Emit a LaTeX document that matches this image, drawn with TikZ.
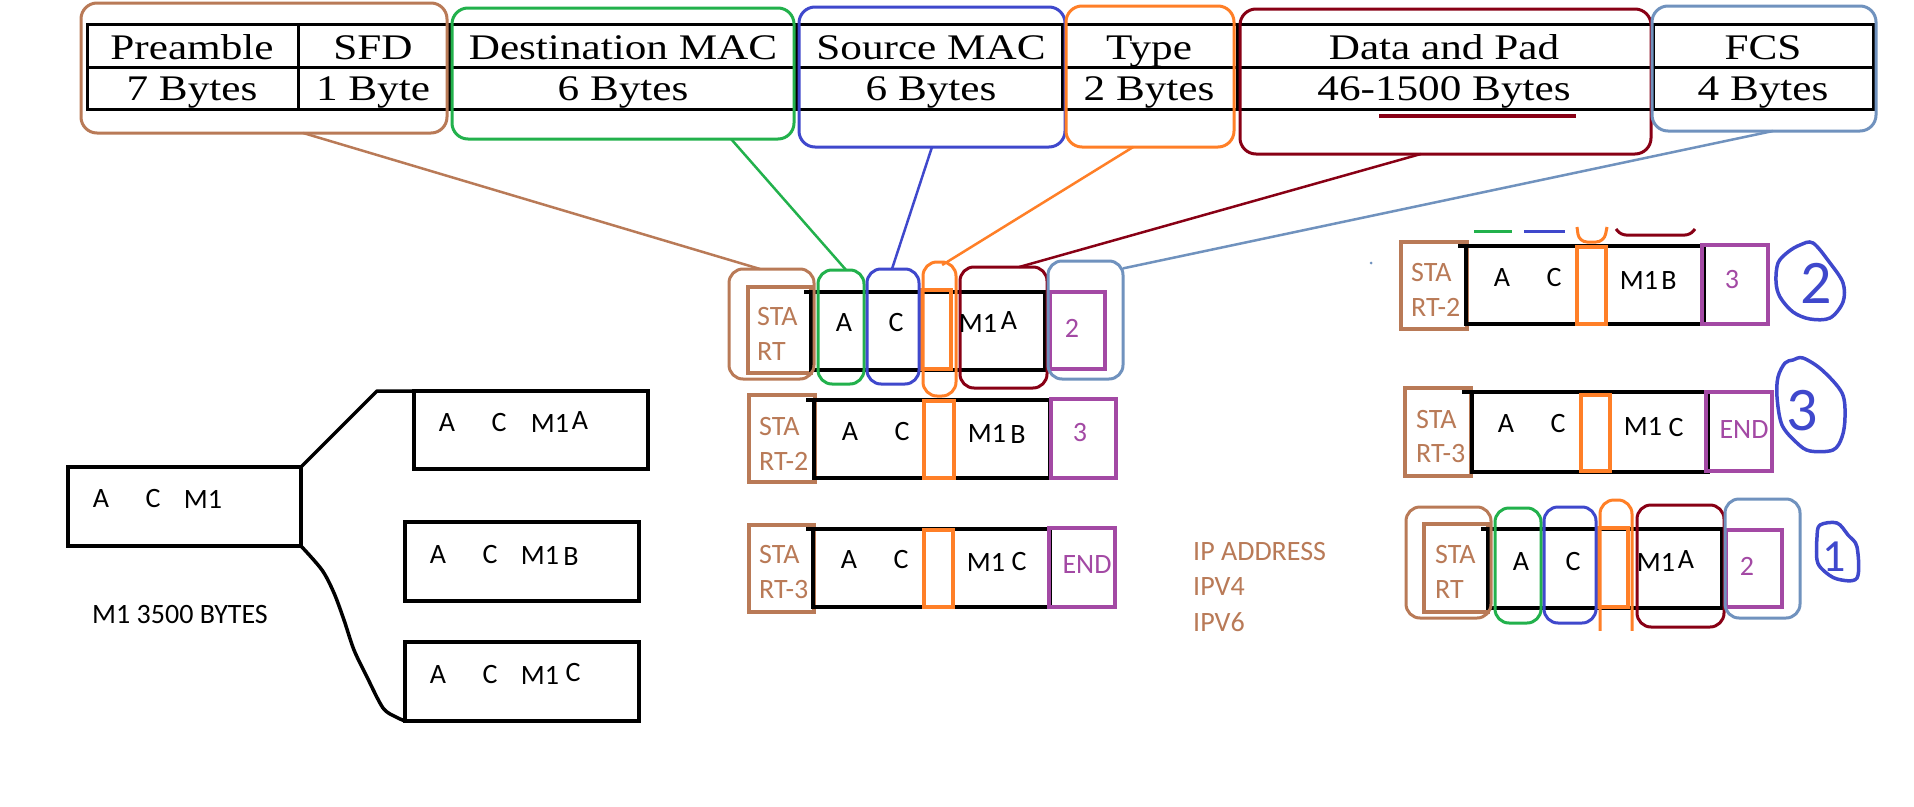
\documentclass[tikz,border=0pt]{standalone}
\usepackage{fontspec}
\usetikzlibrary{calc}
\newfontfamily\tabfont[FakeStretch=1.2]{Liberation Serif}
\newfontfamily\hand{Carlito}
\definecolor{brownP}{HTML}{B97A57}
\definecolor{greenP}{HTML}{22B14C}
\definecolor{blueP}{HTML}{3F48CC}
\definecolor{orangeP}{HTML}{FF7F27}
\definecolor{redP}{HTML}{880015}
\definecolor{lblueP}{HTML}{7092BE}
\definecolor{purpP}{HTML}{A349A4}
\newcommand\mybox[6]{\node[#6, inner sep=0, outer sep=0, minimum width={(#4)-(#2)}, minimum height={(#5)-(#3)}] (#1) at ({((#2)+(#4))/2},{((#3)+(#5))/2}) {};}
\tikzset{
  cell/.style={draw=black, line width=3},
  tbl/.style={font=\tabfont\fontsize{36}{40}\selectfont, anchor=base, inner sep=0},
  hw/.style={font=\hand\fontsize{28}{32}\selectfont, inner sep=0, text=black},
  hwl/.style={hw, anchor=west},
  topr/.style={draw=#1, line width=3, rounded corners=16},
  lowr/.style={draw=#1, line width=3, rounded corners=14},
  sq/.style={draw=#1, line width=3.5},
  frame/.style={draw=black, line width=4},
  blk/.style={draw=black, line width=3.5},
  conn/.style={line width=2.5},
  hand/.style={draw=blueP, line width=3.5, line join=round},
  digit/.style={font=\hand\fontsize{#1}{#1}\selectfont, text=blueP, inner sep=0},
}
\begin{document}
\begin{tikzpicture}[x=1pt,y=-1pt]
\useasboundingbox[fill=white] (0,0) rectangle (1914,806);

% ---------- top table ----------
\mybox{c11}{87}{24}{298}{67}{cell}
\mybox{c12}{298}{24}{449}{67}{cell}
\mybox{c13}{449}{24}{796}{67}{cell}
\mybox{c14}{796}{24}{1062}{67}{cell}
\mybox{c15}{1062}{24}{1237}{67}{cell}
\mybox{c16}{1237}{24}{1653}{67}{cell}
\mybox{c17}{1653}{24}{1873}{67}{cell}
\mybox{c21}{87}{67}{298}{109}{cell}
\mybox{c22}{298}{67}{449}{109}{cell}
\mybox{c23}{449}{67}{796}{109}{cell}
\mybox{c24}{796}{67}{1062}{109}{cell}
\mybox{c25}{1062}{67}{1237}{109}{cell}
\mybox{c26}{1237}{67}{1653}{109}{cell}
\mybox{c27}{1653}{67}{1873}{109}{cell}

\node[tbl] (t11) at (192,59) {Preamble};
\node[tbl] (t12) at (373,59) {SFD};
\node[tbl] (t13) at (623,59) {Destination MAC};
\node[tbl] (t14) at (931,59) {Source MAC};
\node[tbl] (t15) at (1149,59) {Type};
\node[tbl] (t16) at (1444,59) {Data and Pad};
\node[tbl] (t17) at (1763,59) {FCS};
\node[tbl] (t21) at (192,100) {7 Bytes};
\node[tbl] (t22) at (373,100) {1 Byte};
\node[tbl] (t23) at (623,100) {6 Bytes};
\node[tbl] (t24) at (931,100) {6 Bytes};
\node[tbl] (t25) at (1149,100) {2 Bytes};
\node[tbl] (t26) at (1444,100) {46-1500 Bytes};
\node[tbl] (t27) at (1763,100) {4 Bytes};
\draw[redP, line width=4] (1379,116) -- (1576,116);

\mybox{tB}{81}{3}{447}{133}{topr=brownP}
\mybox{tG}{452}{8}{794}{139}{topr=greenP}
\mybox{tBl}{799}{7}{1065}{147}{topr=blueP}
\mybox{tO}{1066}{6}{1234}{147}{topr=orangeP}
\mybox{tR}{1240}{9}{1651}{154}{topr=redP}
\mybox{tL}{1652}{6}{1876}{131}{topr=lblueP}

% ---------- middle column ----------
% row 1
\mybox{m1br}{748}{287}{811}{373}{sq=brownP}
\mybox{m1f}{811}{292}{1045}{370}{frame}
\mybox{m1o}{921}{290}{951}{369}{sq=orangeP}
\mybox{m1p}{1050}{292}{1105}{369}{sq=purpP}
\draw[line width=4] (804,292) -- (m1f.north west);
\mybox{m1Bb}{729}{269}{814}{379}{lowr=brownP}
\mybox{m1G}{818}{270}{864}{384}{lowr=greenP}
\mybox{m1Bl}{867}{269}{919}{384}{lowr=blueP}
\mybox{m1O}{923}{262}{956}{396}{lowr=orangeP}
\mybox{m1R}{960}{267}{1047}{388}{lowr=redP}
\mybox{m1L}{1048}{261}{1123}{379}{lowr=lblueP}
\node[hwl, text=brownP] (m1s1) at (757,317) {STA};
\node[hwl, text=brownP] (m1s2) at (757,352) {RT};
\node[hw] (m1a) at (844,323) {A};
\node[hw] (m1c) at (896,323) {C};
\node[hw] (m1m) at (978,323) {M1};
\node[hw] (m1x) at (1009,321) {A};
\node[hw, text=purpP] (m1n) at (1072,328) {2};
% row 2
\mybox{m2br}{749}{395}{815}{482}{sq=brownP}
\mybox{m2f}{814}{400}{1050}{478}{frame}
\mybox{m2o}{924}{401}{954}{478}{sq=orangeP}
\mybox{m2p}{1051}{399}{1116}{478}{sq=purpP}
\draw[line width=4] (806,400) -- (m2f.north west);
\node[hwl, text=brownP] (m2s1) at (759,427) {STA};
\node[hwl, text=brownP] (m2s2) at (759,461) {RT-2};
\node[hw] (m2a) at (850,432) {A};
\node[hw] (m2c) at (902,432) {C};
\node[hw] (m2m) at (987,433) {M1};
\node[hw] (m2x) at (1018,435) {B};
\node[hw, text=purpP] (m2n) at (1080,433) {3};
% row 3
\mybox{m3br}{749}{525}{814}{612}{sq=brownP}
\mybox{m3f}{813}{529}{1050}{607}{frame}
\mybox{m3o}{924}{530}{953}{607}{sq=orangeP}
\mybox{m3p}{1049}{528}{1115}{607}{sq=purpP}
\draw[line width=4] (806,529) -- (m3f.north west);
\node[hwl, text=brownP] (m3s1) at (759,555) {STA};
\node[hwl, text=brownP] (m3s2) at (759,590) {RT-3};
\node[hw] (m3a) at (849,560) {A};
\node[hw] (m3c) at (901,560) {C};
\node[hw] (m3m) at (986,562) {M1};
\node[hw] (m3x) at (1019,562) {C};
\node[hw, text=purpP] (m3n) at (1087,565) {END};

% ---------- connectors top -> middle row 1 ----------
\draw[conn, brownP] ($(tB.south west)!0.607!(tB.south east)$) -- ($(m1Bb.north west)!0.365!(m1Bb.north east)$);
\draw[conn, greenP] ($(tG.south west)!0.816!(tG.south east)$) -- ($(m1G.north west)!0.61!(m1G.north east)$);
\draw[conn, blueP] ($(tBl.south west)!0.5!(tBl.south east)$) -- ($(m1Bl.north west)!0.48!(m1Bl.north east)$);
\draw[conn, orangeP] ($(tO.south west)!0.4!(tO.south east)$) -- ($(m1O.north west)!0.58!(m1O.north east)+(0,3)$);
\draw[conn, redP] ($(tR.south west)!0.44!(tR.south east)$) -- ($(m1R.north west)!0.68!(m1R.north east)$);
\draw[conn, lblueP] ($(tL.south west)!0.54!(tL.south east)$) -- (m1L.54);

% ---------- right column ----------
% row 1
\mybox{r1br}{1401}{242}{1467}{329}{sq=brownP}
\mybox{r1f}{1466}{246}{1704}{324}{frame}
\mybox{r1o}{1577}{247}{1606}{324}{sq=orangeP}
\mybox{r1p}{1702}{245}{1768}{324}{sq=purpP}
\draw[line width=4] (1458,246) -- (r1f.north west);
\draw[greenP, line width=3] (1474,231) -- (1512,231);
\draw[blueP, line width=3] (1524,231) -- (1565,231);
\draw[orangeP, line width=3, rounded corners=8] (1577,227) -- (1579,242) -- (1604,242) -- (1607,227);
\draw[redP, line width=3, rounded corners=5] (1616,229) -- (1621,235) -- (1690,235) -- (1695,229);
\fill[lblueP] (1371,263) circle (1.5);
\node[hwl, text=brownP] (r1s1) at (1411,273) {STA};
\node[hwl, text=brownP] (r1s2) at (1411,307) {RT-2};
\node[hw] (r1a) at (1502,278) {A};
\node[hw] (r1c) at (1554,278) {C};
\node[hw] (r1m) at (1639,280) {M1};
\node[hw] (r1x) at (1669,281) {B};
\node[hw, text=purpP] (r1n) at (1732,280) {3};
\draw[hand] plot[smooth cycle, tension=0.55] coordinates {(1800,245) (1813,243) (1830,263) (1843,283) (1843,302) (1830,318) (1810,319) (1793,312) (1780,297) (1776,282) (1778,263) (1788,252)};
\node[digit=62] (o2) at (1816,283) {2};
% row 2
\mybox{r2br}{1405}{388}{1471}{476}{sq=brownP}
\mybox{r2f}{1472}{392}{1708}{472}{frame}
\mybox{r2o}{1581}{395}{1610}{471}{sq=orangeP}
\mybox{r2p}{1706}{392}{1772}{471}{sq=purpP}
\draw[line width=4] (1462,392) -- (r2f.north west);
\node[hwl, text=brownP] (r2s1) at (1416,420) {STA};
\node[hwl, text=brownP] (r2s2) at (1416,454) {RT-3};
\node[hw] (r2a) at (1506,424) {A};
\node[hw] (r2c) at (1558,424) {C};
\node[hw] (r2m) at (1643,426) {M1};
\node[hw] (r2x) at (1676,428) {C};
\node[hw, text=purpP] (r2n) at (1744,430) {END};
\draw[hand] plot[smooth cycle, tension=0.55] coordinates {(1793,360) (1803,358) (1822,370) (1842,393) (1845,417) (1842,437) (1833,450) (1810,451) (1797,443) (1782,425) (1777,397) (1778,377) (1785,363)};
\node[digit=62] (o3) at (1802,411) {3};
% row 3
\mybox{r3br}{1424}{524}{1488}{612}{sq=brownP}
\mybox{r3f}{1488}{529}{1722}{608}{frame}
\mybox{r3o}{1598}{528}{1628}{607}{sq=orangeP}
\mybox{r3p}{1726}{530}{1782}{607}{sq=purpP}
\draw[line width=4] (1481,529) -- (r3f.north west);
\mybox{r3Bb}{1406}{507}{1491}{618}{lowr=brownP}
\mybox{r3G}{1495}{508}{1541}{623}{lowr=greenP}
\mybox{r3Bl}{1544}{507}{1596}{623}{lowr=blueP}
\begin{scope}
\clip (1590,490) rectangle (1645,630);
\mybox{r3O}{1600}{500}{1632}{645}{lowr=orangeP}
\end{scope}
\mybox{r3R}{1637}{505}{1724}{627}{lowr=redP}
\mybox{r3L}{1725}{499}{1800}{618}{lowr=lblueP}
\node[hwl, text=brownP] (r3s1) at (1435,555) {STA};
\node[hwl, text=brownP] (r3s2) at (1435,590) {RT};
\node[hw] (r3a) at (1521,562) {A};
\node[hw] (r3c) at (1573,562) {C};
\node[hw] (r3m) at (1656,562) {M1};
\node[hw] (r3x) at (1686,560) {A};
\node[hw, text=purpP] (r3n) at (1747,566) {2};
\draw[hand] plot[smooth cycle, tension=0.55] coordinates {(1820,525) (1837,523) (1848,535) (1857,547) (1857,578) (1837,579) (1823,570) (1817,560) (1817,537)};
\node[digit=46] (o1) at (1834,557) {1};

% ---------- IP text ----------
\node[hwl, text=brownP] (ip1) at (1193,552) {IP ADDRESS};
\node[hwl, text=brownP] (ip2) at (1193,587) {IPV4};
\node[hwl, text=brownP] (ip3) at (1193,622) {IPV6};

% ---------- left part ----------
\mybox{main}{68}{467}{301}{546}{blk}
\mybox{bA}{414}{391}{648}{469}{blk}
\mybox{bB}{405}{522}{639}{601}{blk}
\mybox{bC}{405}{642}{639}{721}{blk}
\node[hw] (ma) at (101,499) {A};
\node[hw] (mc) at (153,499) {C};
\node[hw] (mm) at (203,499) {M1};
\node[hw] (aa) at (447,423) {A};
\node[hw] (ac) at (499,423) {C};
\node[hw] (am) at (550,423) {M1};
\node[hw] (ax) at (580,421) {A};
\node[hw] (ba) at (438,555) {A};
\node[hw] (bc) at (490,555) {C};
\node[hw] (bm) at (540,555) {M1};
\node[hw] (bx) at (571,557) {B};
\node[hw] (ca) at (438,675) {A};
\node[hw] (cc) at (490,675) {C};
\node[hw] (cm) at (540,675) {M1};
\node[hw] (cx) at (573,673) {C};
\node[hwl] (size) at (92,615) {M1 3500 BYTES};
\draw[line width=3.5, line join=round] (main.north east) -- (377,391) -- ($(bA.north west)+(8,0)$);
\draw[line width=3.5] plot[smooth, tension=0.5] coordinates {(main.south east) (322,570) (334,593) (344,620) (354,650) (367,677) (383,708) (396,717) (bC.south west)};
\end{tikzpicture}
\end{document}
